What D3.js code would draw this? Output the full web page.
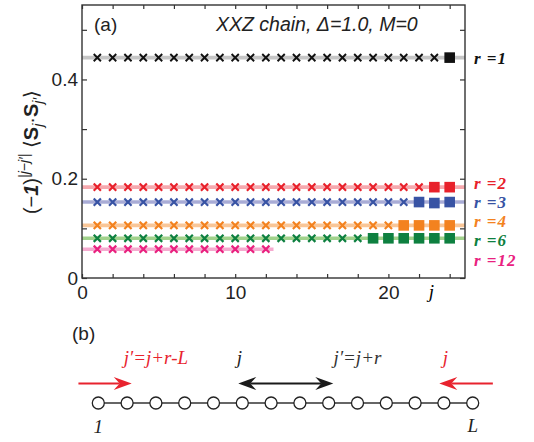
<!DOCTYPE html>
<html>
<head>
<meta charset="utf-8">
<script src="https://cdn.jsdelivr.net/npm/d3@7"></script>
<style>
  body { margin: 0; background: #fff; }
  svg { display: block; }
  .tick text { font-family: "Liberation Sans", Arial, sans-serif; font-size: 19px; fill: #222; }
</style>
</head>
<body>
<div id="chart"></div>
<script>
// sites j along the periodic chain (L = 24)
var sites = [1, 2, 3, 4, 5, 6, 7, 8, 9, 10, 11, 12, 13, 14, 15, 16, 17, 18, 19, 20, 21, 22, 23, 24];
var rList = [1, 2, 3, 4, 6, 12];
var rLabels = ["r =1", "r =2", "r =3", "r =4", "r =6", "r =12"];

// (-1)^|j-j'| <S_j . S_j'> read per site j
var corrR1 = [0.444, 0.444, 0.444, 0.444, 0.444, 0.444, 0.444, 0.444, 0.444, 0.444, 0.444, 0.444,
              0.444, 0.444, 0.444, 0.444, 0.444, 0.444, 0.444, 0.444, 0.444, 0.444, 0.444, 0.444];
var corrR2 = [0.183, 0.183, 0.183, 0.183, 0.183, 0.183, 0.183, 0.183, 0.183, 0.183, 0.183, 0.183,
              0.183, 0.183, 0.183, 0.183, 0.183, 0.183, 0.183, 0.183, 0.183, 0.183, 0.183, 0.183];
var corrR3 = [0.153, 0.153, 0.153, 0.153, 0.153, 0.153, 0.153, 0.153, 0.153, 0.153, 0.153, 0.153,
              0.153, 0.153, 0.153, 0.153, 0.153, 0.153, 0.153, 0.153, 0.153, 0.153, 0.151, 0.153];
var corrR4 = [0.106, 0.106, 0.106, 0.106, 0.106, 0.106, 0.106, 0.106, 0.106, 0.106, 0.106, 0.106,
              0.106, 0.106, 0.106, 0.106, 0.106, 0.106, 0.106, 0.106, 0.106, 0.106, 0.106, 0.106];
var corrR6 = [0.080, 0.080, 0.080, 0.080, 0.080, 0.080, 0.080, 0.080, 0.080, 0.080, 0.080, 0.080,
              0.080, 0.080, 0.080, 0.080, 0.080, 0.080, 0.080, 0.080, 0.080, 0.080, 0.080, 0.080];
var corrR12 = [0.058, 0.058, 0.058, 0.058, 0.058, 0.058, 0.058, 0.058, 0.058, 0.058, 0.058, 0.058];
var corrAll = [corrR1, corrR2, corrR3, corrR4, corrR6, corrR12];

// first points are plain pairs (crosses), the rest wrap round the boundary (squares)
var crossCount = [23, 22, 21, 20, 18, 12];
// horizontal fit line: constant value, drawn up to this j
var fitValue = [0.444, 0.183, 0.153, 0.106, 0.080, 0.058];
var fitEnd = [25, 25, 25, 25, 25, 12.5];

var markColors = ["#111111", "#e8212b", "#3853a4", "#f3821f", "#0e8040", "#e9217f"];
var lineColors = ["#c6c6c6", "#f6a9ae", "#a9acd6", "#f9c697", "#a1d28c", "#f5aacf"];

var xTicks = [0, 2, 4, 6, 8, 10, 12, 14, 16, 18, 20, 22, 24];
var xTickLabels = [0, 10, 20];
var yTicks = [0, 0.1, 0.2, 0.3, 0.4, 0.5];
var yTickLabels = [0, 0.2, 0.4];

// panel (b): the chain
var chainSites = [1, 2, 3, 4, 5, 6, 7, 8, 9, 10, 11, 12, 13, 14];

var sans = '"Liberation Sans", Arial, Helvetica, sans-serif';
var serif = '"Liberation Serif", "Times New Roman", serif';

var svg = d3.select("#chart").append("svg")
    .attr("width", 534)
    .attr("height", 442);

var margin = {left: 82, top: 5};
var width = 383, height = 273;

var x = d3.scaleLinear().domain([0, 25]).range([0, width]);
var y = d3.scaleLinear().domain([0, 0.55]).range([height, 0]);

var g = svg.append("g").attr("transform", "translate(" + margin.left + "," + margin.top + ")");

// fit lines
rList.forEach(function(r, i) {
    g.append("line")
        .attr("x1", x(0))
        .attr("x2", x(fitEnd[i]))
        .attr("y1", y(fitValue[i]))
        .attr("y2", y(fitValue[i]))
        .attr("stroke", lineColors[i])
        .attr("stroke-width", 3.6);
});

// markers
var cs = 3.6;
rList.forEach(function(r, i) {
    var pts = corrAll[i].map(function(v, k) { return {j: sites[k], v: v, cross: k < crossCount[i]}; });
    g.selectAll(".cross" + r)
        .data(pts.filter(function(d) { return d.cross; }))
        .enter().append("path")
        .attr("d", function(d) {
            var cx = x(d.j), cy = y(d.v);
            return "M" + (cx - cs) + "," + (cy - cs) + "L" + (cx + cs) + "," + (cy + cs) +
                   "M" + (cx - cs) + "," + (cy + cs) + "L" + (cx + cs) + "," + (cy - cs);
        })
        .attr("stroke", markColors[i])
        .attr("stroke-width", i === 0 ? 1.9 : 2.2)
        .attr("fill", "none");
    g.selectAll(".sq" + r)
        .data(pts.filter(function(d) { return !d.cross; }))
        .enter().append("rect")
        .attr("x", function(d) { return x(d.j) - 5.3; })
        .attr("y", function(d) { return y(d.v) - 5.3; })
        .attr("width", 10.6)
        .attr("height", 10.6)
        .attr("fill", markColors[i]);
});

// axes, ticks pointing inward
var fmtX = function(d) { return xTickLabels.indexOf(d) >= 0 ? d : ""; };
var fmtY = function(d) { return yTickLabels.indexOf(d) >= 0 ? (d === 0 ? "0" : d3.format(".1f")(d)) : ""; };

g.append("g").attr("transform", "translate(0," + height + ")")
    .call(d3.axisBottom(x).tickValues(xTicks).tickSizeInner(-4).tickSizeOuter(0).tickPadding(8).tickFormat(fmtX));
g.append("g")
    .call(d3.axisTop(x).tickValues(xTicks).tickSizeInner(-4).tickSizeOuter(0).tickFormat(""));
g.append("g")
    .call(d3.axisLeft(y).tickValues(yTicks).tickSizeInner(-5).tickSizeOuter(0).tickPadding(4).tickFormat(fmtY));
g.append("g").attr("transform", "translate(" + width + ",0)")
    .call(d3.axisRight(y).tickValues(yTicks).tickSizeInner(-5).tickSizeOuter(0).tickFormat(""));
g.selectAll(".domain").remove();
g.selectAll(".tick line").attr("stroke", "#333").attr("stroke-width", 1.2);

g.append("rect")
    .attr("width", width)
    .attr("height", height)
    .attr("fill", "none")
    .attr("stroke", "#333")
    .attr("stroke-width", 1.4);

// x axis label "j" among the tick labels
g.append("text")
    .attr("x", x(22.8))
    .attr("y", height + 20)
    .attr("text-anchor", "middle")
    .style("font-family", serif)
    .style("font-style", "italic")
    .style("font-size", "19px")
    .text("j");

// series labels on the right
var labelShift = [6.5, 2, 5.5, 2, 8, 17];
rList.forEach(function(r, i) {
    g.append("text")
        .attr("x", width + 9)
        .attr("y", y(fitValue[i]) + labelShift[i])
        .style("font-family", serif)
        .style("font-style", "italic")
        .style("font-weight", "bold")
        .style("font-size", "17px")
        .style("letter-spacing", "1px")
        .attr("fill", markColors[i])
        .text(rLabels[i]);
});

// panel label and title
g.append("text")
    .attr("x", 12)
    .attr("y", 26)
    .style("font-family", sans)
    .style("font-size", "19px")
    .attr("fill", "#222")
    .text("(a)");
g.append("text")
    .attr("x", 134)
    .attr("y", 26)
    .style("font-family", sans)
    .style("font-style", "italic")
    .style("font-size", "19.5px")
    .attr("fill", "#222")
    .text("XXZ chain, \u0394=1.0, M=0");

// y axis label
var yl = svg.append("text")
    .attr("transform", "translate(38,152) rotate(-90)")
    .attr("text-anchor", "middle")
    .style("font-family", sans)
    .style("font-size", "20px")
    .attr("fill", "#222");
yl.append("tspan").text("(\u2212");
yl.append("tspan").style("font-style", "italic").style("font-weight", "bold").text("1");
yl.append("tspan").text(")");
yl.append("tspan").attr("dy", -9).style("font-size", "14px").style("font-style", "italic").text("|j\u2212j\u2032|");
yl.append("tspan").attr("dy", 9).text(" \u27E8");
yl.append("tspan").style("font-weight", "bold").text("S");
yl.append("tspan").attr("dy", 5).style("font-size", "14px").style("font-style", "italic").text("j");
yl.append("tspan").attr("dy", -5).text("\u00B7");
yl.append("tspan").style("font-weight", "bold").text("S");
yl.append("tspan").attr("dy", 5).style("font-size", "14px").style("font-style", "italic").text("j\u2032");
yl.append("tspan").attr("dy", -5).text("\u27E9");

// ---------- panel (b) ----------
var cx = d3.scaleLinear().domain([1, 14]).range([98.3, 472.7]);
var chainY = 403, arrowY = 383.5, textY = 364;
var red = "#e8232e";

svg.append("text")
    .attr("x", 72)
    .attr("y", 340)
    .style("font-family", sans)
    .style("font-size", "19px")
    .attr("fill", "#222")
    .text("(b)");

svg.append("line")
    .attr("x1", cx(1)).attr("x2", cx(14))
    .attr("y1", chainY).attr("y2", chainY)
    .attr("stroke", "#333").attr("stroke-width", 1.5);

svg.selectAll(".site")
    .data(chainSites)
    .enter().append("circle")
    .attr("cx", function(d) { return cx(d); })
    .attr("cy", chainY)
    .attr("r", 6)
    .attr("fill", "#fff")
    .attr("stroke", "#222")
    .attr("stroke-width", 1.3);

function arrowHead(tip, dir, color) {
    var p = [[tip, arrowY], [tip - dir * 18, arrowY - 6.5], [tip - dir * 12, arrowY], [tip - dir * 18, arrowY + 6.5]];
    svg.append("path")
        .attr("d", "M" + p.map(function(q) { return q.join(","); }).join("L") + "Z")
        .attr("fill", color);
}
function arrow(from, to, color, both) {
    var a = cx(from), b = cx(to);
    var dir = b > a ? 1 : -1;
    svg.append("line")
        .attr("x1", both ? a + dir * 12 : a).attr("x2", b - dir * 12)
        .attr("y1", arrowY).attr("y2", arrowY)
        .attr("stroke", color).attr("stroke-width", 2.2);
    arrowHead(b, dir, color);
    if (both) arrowHead(a, -dir, color);
}
arrow(0.31, 2.16, red, false);
arrow(14.7, 12.84, red, false);
arrow(5.86, 9.16, "#1a1a1a", true);

var chainLabels = [
    {s: 3, text: "j\u2032=j+r-L", color: red},
    {s: 5.9, text: "j", color: "#222"},
    {s: 10, text: "j\u2032=j+r", color: "#333"},
    {s: 13.05, text: "j", color: red}
];
chainLabels.forEach(function(d) {
    svg.append("text")
        .attr("x", cx(d.s))
        .attr("y", textY)
        .attr("text-anchor", "middle")
        .style("font-family", serif)
        .style("font-style", "italic")
        .style("font-size", "19px")
        .attr("fill", d.color)
        .text(d.text);
});
svg.append("text")
    .attr("x", cx(1)).attr("y", 433)
    .attr("text-anchor", "middle")
    .style("font-family", serif).style("font-style", "italic").style("font-size", "19px")
    .attr("fill", "#222")
    .text("1");
svg.append("text")
    .attr("x", cx(14)).attr("y", 432)
    .attr("text-anchor", "middle")
    .style("font-family", serif).style("font-style", "italic").style("font-size", "19px")
    .attr("fill", "#222")
    .text("L");
</script>
</body>
</html>
